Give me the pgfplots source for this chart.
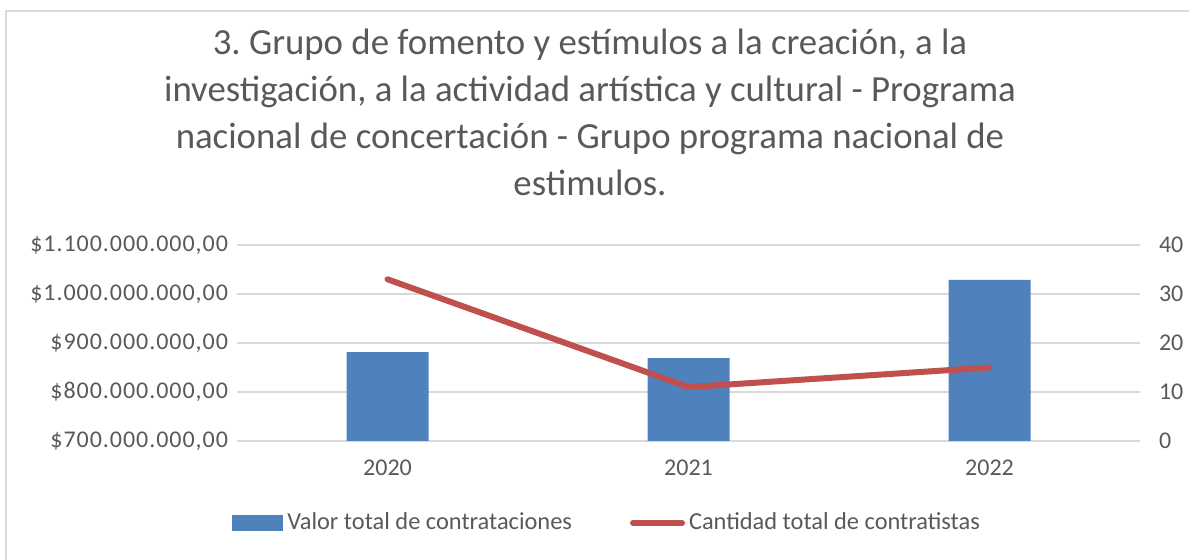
\documentclass[border=0pt]{standalone}
\usepackage{pgfplots}
\pgfplotsset{compat=1.18}
\usepackage{fontspec}
\setmainfont{Carlito}
\newfontfamily\widefont[LetterSpace=4]{Carlito}
\frenchspacing
\definecolor{barblue}{HTML}{4F81BD}
\definecolor{linered}{HTML}{C0504D}
\definecolor{txtgray}{HTML}{595959}
\definecolor{gridgray}{HTML}{D9D9D9}
\definecolor{framegray}{HTML}{D9D9D9}

\begin{document}
\begin{tikzpicture}
  % page is 594.5pt x 280pt (0.5pt per reference pixel)
  \useasboundingbox (0pt,0pt) rectangle (594.5pt,280pt);
  \draw[framegray,line width=1pt] (2.8pt,0pt) -- (2.8pt,274.5pt) -- (594.5pt,274.5pt);

  \node[align=center,text=txtgray,font=\fontsize{18.4}{23.5}\selectfont,anchor=north]
    at (295pt,269pt) {3. Grupo de fomento y estímulos a la creación, a la\\
      investigación, a la actividad artística y cultural - Programa\\
      nacional de concertación - Grupo programa nacional de\\
      estimulos.};

  \begin{axis}[
    at={(118.5pt,59.5pt)}, anchor=south west,
    scale only axis, width=451.5pt, height=98pt,
    xmin=-0.5, xmax=2.5,
    ymin=700, ymax=1100,
    xtick={0,1,2}, xticklabels={2020,2021,2022},
    ytick={700,800,900,1000,1100},
    yticklabels={{\$700.000.000,00},{\$800.000.000,00},{\$900.000.000,00},{\$1.000.000.000,00},{\$1.100.000.000,00}},
    axis y line*=left, axis x line*=bottom,
    axis line style={draw=none},
    major tick length=0pt,
    ymajorgrids, grid style={gridgray,line width=1pt},
    tick label style={text=txtgray,font=\fontsize{12}{14}\selectfont},
    yticklabel style={xshift=-1pt,font=\fontsize{12}{14}\widefont},
    xticklabel style={yshift=-6pt},
    ybar, bar width=41pt,
    legend style={at={(0.411,-0.418)},anchor=center,draw=none,fill=none,
      legend columns=2,font=\fontsize{12.2}{14}\selectfont,text=txtgray,
      /tikz/every even column/.append style={column sep=27pt},
      inner sep=0pt},
    legend cell align=left,
  ]
    \addplot[fill=barblue,draw=none,
      legend image code/.code={\fill[barblue] (0pt,-4pt) rectangle (25.5pt,4pt);}]
      coordinates {(0,881.6) (1,869.0) (2,1028.6)};
    \addlegendentry{Valor total de contrataciones}
    \addlegendimage{linered,line width=3pt,line cap=round,
      legend image code/.code={\draw[linered,line width=3pt,line cap=round] (1.5pt,0pt) -- (26pt,0pt);}}
    \addlegendentry{Cantidad total de contratistas}
  \end{axis}

  \begin{axis}[
    at={(118.5pt,59.5pt)}, anchor=south west,
    scale only axis, width=451.5pt, height=98pt,
    xmin=-0.5, xmax=2.5,
    ymin=0, ymax=40,
    xtick=\empty,
    ytick={0,10,20,30,40},
    axis y line*=right, axis x line=none,
    axis line style={draw=none},
    major tick length=0pt,
    /pgf/number format/assume math mode=true,
    tick label style={text=txtgray,font=\fontsize{12}{14}\selectfont},
    yticklabel style={xshift=6pt},
  ]
    \addplot[linered,line width=3pt,line cap=round,line join=round]
      coordinates {(0,33) (1,11) (2,15)};
  \end{axis}
\end{tikzpicture}
\end{document}
